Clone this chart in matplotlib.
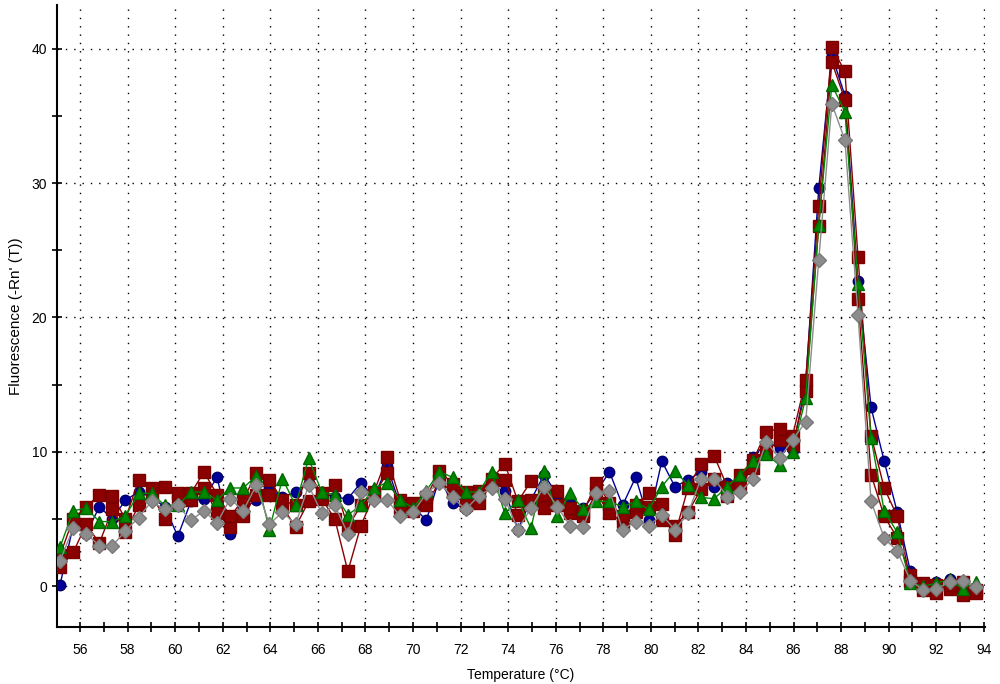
#!/usr/bin/env python3

import matplotlib
matplotlib.use("Agg")
import matplotlib.pyplot as plt
from matplotlib.ticker import MultipleLocator

# melt curve temperatures (deg C)
temps = [55.16, 55.71, 56.26, 56.81, 57.36, 57.91, 58.46, 59.01, 59.56, 60.11,
         60.66, 61.21, 61.76, 62.31, 62.86, 63.41, 63.96, 64.51, 65.06, 65.61,
         66.16, 66.71, 67.26, 67.81, 68.36, 68.91, 69.46, 70.01, 70.56, 71.11,
         71.66, 72.21, 72.76, 73.31, 73.86, 74.41, 74.96, 75.51, 76.06, 76.61,
         77.16, 77.71, 78.26, 78.81, 79.36, 79.91, 80.46, 81.01, 81.56, 82.11,
         82.66, 83.21, 83.76, 84.31, 84.86, 85.41, 85.96, 86.51, 87.06, 87.61,
         88.16, 88.71, 89.26, 89.81, 90.36, 90.91, 91.46, 92.01, 92.56, 93.11,
         93.66]

blue = [0.1, 4.5, 3.9, 5.9, 5.0, 6.4, 7.0, 6.6, 5.9, 3.7,
        6.3, 6.5, 8.1, 3.9, 5.8, 6.4, 7.3, 6.6, 7.0, 7.7,
        7.0, 6.6, 6.5, 7.7, 6.6, 8.9, 6.0, 5.9, 4.9, 8.0,
        6.2, 5.7, 6.8, 8.1, 7.1, 4.2, 6.4, 8.3, 6.8, 6.2,
        5.8, 7.0, 8.5, 6.0, 8.1, 4.9, 9.3, 7.4, 7.9, 8.5,
        7.4, 7.7, 7.1, 9.6, 10.7, 10.3, 10.1, 15.1, 29.6, 39.5,
        36.5, 22.7, 13.3, 9.3, 5.5, 1.1, 0.0, 0.3, 0.5, 0.2,
        -0.2]

red_a = [2.3, 5.0, 5.9, 6.8, 6.7, 5.0, 7.9, 7.3, 7.4, 6.9,
         6.9, 8.5, 6.8, 5.2, 6.4, 8.4, 7.9, 6.4, 6.0, 8.4,
         6.9, 7.5, 4.4, 6.0, 7.0, 9.6, 6.4, 6.2, 6.6, 8.6,
         7.6, 7.0, 7.1, 8.0, 9.1, 6.3, 7.8, 6.8, 7.1, 5.8,
         5.5, 7.7, 6.2, 5.2, 6.0, 6.9, 6.1, 3.8, 7.3, 9.1,
         9.7, 7.4, 8.3, 9.4, 11.5, 11.7, 11.2, 15.3, 28.3, 40.1,
         38.3, 24.5, 11.2, 7.3, 5.2, 0.4, 0.2, -0.5, 0.1, -0.7,
         -0.3]

red_b = [1.4, 2.5, 4.6, 3.2, 5.7, 4.0, 6.0, 6.8, 5.0, 6.3,
         6.4, 7.3, 5.4, 4.4, 5.2, 6.8, 6.8, 5.9, 4.4, 6.3,
         6.5, 5.0, 1.1, 4.5, 6.8, 8.4, 5.8, 5.6, 6.0, 7.8,
         7.0, 6.0, 6.2, 7.6, 7.9, 5.3, 6.4, 5.8, 6.0, 5.4,
         5.2, 6.9, 5.4, 4.8, 5.5, 5.9, 4.9, 4.5, 5.5, 7.2,
         8.0, 6.7, 7.6, 8.8, 10.0, 10.9, 10.5, 14.5, 26.8, 39.0,
         36.2, 21.4, 8.3, 5.2, 3.6, 0.8, -0.3, 0.1, -0.2, 0.3,
         -0.5]

green = [2.9, 5.6, 5.8, 4.8, 4.8, 5.2, 6.9, 6.9, 6.0, 6.0,
         7.0, 7.0, 6.4, 7.3, 7.3, 8.2, 4.2, 8.0, 6.0, 9.5,
         7.0, 6.8, 5.3, 6.0, 7.3, 7.7, 6.4, 5.8, 7.1, 8.5,
         8.1, 7.0, 7.0, 8.5, 5.4, 6.4, 4.3, 8.6, 5.2, 6.9,
         5.7, 6.3, 6.3, 5.9, 6.3, 5.7, 7.4, 8.6, 7.5, 6.6,
         6.5, 7.4, 8.3, 9.3, 9.8, 9.0, 10.0, 14.0, 26.9, 37.3,
         35.3, 22.5, 11.0, 5.6, 4.0, 0.2, 0.0, 0.2, 0.5, -0.2,
         0.3]

gray = [1.9, 4.3, 3.9, 3.0, 3.0, 4.1, 5.1, 6.3, 5.7, 6.0,
        4.9, 5.6, 4.7, 6.5, 5.6, 7.5, 4.6, 5.5, 4.6, 7.5,
        5.4, 6.0, 3.9, 7.0, 6.4, 6.4, 5.2, 5.5, 6.9, 7.7,
        6.6, 5.7, 6.7, 7.3, 6.5, 4.2, 5.8, 7.4, 5.9, 4.5,
        4.4, 6.9, 7.1, 4.2, 4.8, 4.5, 5.3, 4.2, 5.4, 8.0,
        8.0, 6.65, 7.0, 8.0, 10.75, 9.5, 10.9, 12.2, 24.3, 35.9,
        33.2, 20.2, 6.3, 3.6, 2.6, 0.4, -0.3, -0.2, 0.3, 0.4,
        -0.1]


def main():
    plt.rcParams['font.family'] = ['Liberation Sans', 'DejaVu Sans']

    fig = plt.figure(figsize=(10, 6.84), dpi=100)
    ax = fig.add_axes([0.057, 0.0833, 0.928, 0.9094])

    # wells: colour, marker, size
    ax.plot(temps, blue, '-', color='#000099', lw=1, marker='o', ms=7.5,
            mfc='#000099', mec='#000066', zorder=3)
    ax.plot(temps, red_b, '-', color='#8b0000', lw=1, marker='s', ms=8,
            mfc='#8b0000', mec='#7a0000', zorder=4)
    ax.plot(temps, red_a, '-', color='#8b0000', lw=1, marker='s', ms=8,
            mfc='#8b0000', mec='#7a0000', zorder=4)
    ax.plot(temps, green, '-', color='#008800', lw=1, marker='^', ms=8,
            mfc='#008800', mec='#006600', zorder=5)
    ax.plot(temps, gray, '-', color='#8c8c8c', lw=1, marker='D', ms=7.5,
            mfc='#8c8c8c', mec='#7a7a7a', zorder=6)

    ax.set_xlim(55.03, 94.05)
    ax.set_ylim(-3.05, 43.25)

    ax.xaxis.set_major_locator(MultipleLocator(2))
    ax.xaxis.set_minor_locator(MultipleLocator(1))
    ax.yaxis.set_major_locator(MultipleLocator(10))
    ax.yaxis.set_minor_locator(MultipleLocator(5))
    ax.set_xticks(range(56, 95, 2))

    ax.grid(True, which='major', color='black', linestyle=(0, (1, 5)), lw=1)

    for side in ['top', 'right']:
        ax.spines[side].set_visible(False)
    for side in ['left', 'bottom']:
        ax.spines[side].set_linewidth(1.5)

    ax.tick_params(which='both', direction='inout', length=7, width=1.2,
                   labelsize=10, colors='black')
    ax.tick_params(axis='x', pad=8)

    ax.set_xlabel("Temperature (°C)", fontsize=10, labelpad=8)
    ax.set_ylabel("Fluorescence (-Rn' (T))", fontsize=11, labelpad=6)

    fig.savefig("out.png", dpi=100)


main()
